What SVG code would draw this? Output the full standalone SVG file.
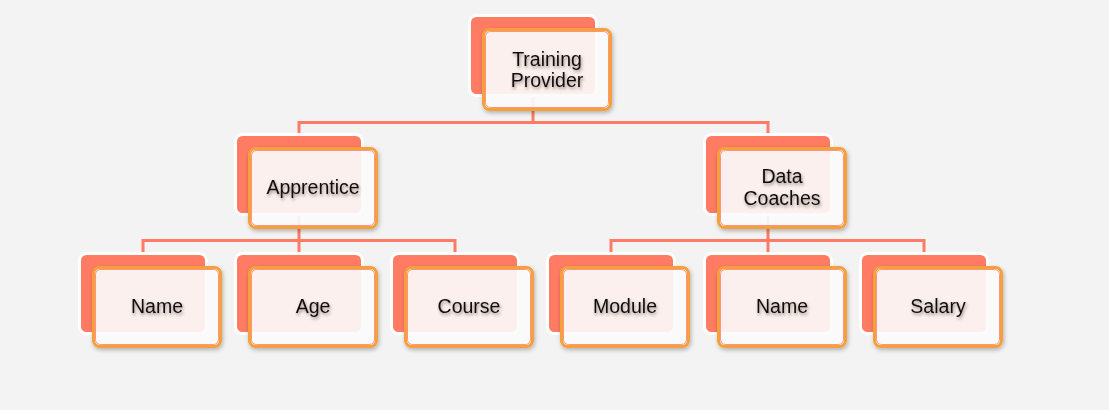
<svg xmlns="http://www.w3.org/2000/svg" width="1109" height="410" viewBox="0 0 1109 410">
<defs>
<filter id="boxShadow" x="-20%" y="-20%" width="140%" height="150%">
<feDropShadow dx="1" dy="2" stdDeviation="2" flood-color="#000" flood-opacity="0.28"/>
</filter>
<filter id="txtShadow" x="-20%" y="-40%" width="140%" height="180%">
<feDropShadow dx="1" dy="2" stdDeviation="1.5" flood-color="#3a2a20" flood-opacity="0.5"/>
</filter>
</defs>
<style>
.back{fill:#FF7B64;stroke:#FFFFFF;stroke-width:3}
.front{fill:#FFFFFF;fill-opacity:0.88;stroke:#F5A03A;stroke-width:3;filter:url(#boxShadow)}
.inner{fill:none;stroke:#FF7B64;stroke-width:1;stroke-opacity:0.8}
.lbl{font-family:"Liberation Sans",Arial,sans-serif;font-size:19.5px;fill:#111;text-anchor:middle;filter:url(#txtShadow)}
.conn{fill:none;stroke:#FF7B66;stroke-width:3;stroke-linejoin:miter}
</style>
<rect x="0" y="0" width="1109" height="410" fill="#F3F3F3"/>
<g id="connectors">
<path class="conn" d="M533 94 V122.5 M299 136 V122.5 H768 V136"/>
<path class="conn" d="M299 213 V240.5 M143 255 V240.5 H455 V255 M299 240.5 V255"/>
<path class="conn" d="M768 213 V240.5 M611 255 V240.5 H924 V255 M768 240.5 V255"/>
</g>
<g id="node-training-provider">
<rect class="back" x="469.5" y="15.5" width="127" height="80" rx="7"/>
<rect class="front" x="483.5" y="29.5" width="127" height="80" rx="6"/>
<rect class="inner" x="485.5" y="31.5" width="123" height="76" rx="5"/>
<text class="lbl" x="547" y="66">Training</text>
<text class="lbl" x="547" y="87">Provider</text>
</g>
<g id="node-apprentice">
<rect class="back" x="235.5" y="134.5" width="127" height="80" rx="7"/>
<rect class="front" x="249.5" y="148.5" width="127" height="79" rx="6"/>
<rect class="inner" x="251.5" y="150.5" width="123" height="75" rx="5"/>
<text class="lbl" x="313" y="194">Apprentice</text>
</g>
<g id="node-data-coaches">
<rect class="back" x="704.5" y="134.5" width="127" height="80" rx="7"/>
<rect class="front" x="718.5" y="148.5" width="127" height="79" rx="6"/>
<rect class="inner" x="720.5" y="150.5" width="123" height="75" rx="5"/>
<text class="lbl" x="782" y="183">Data</text>
<text class="lbl" x="782" y="205">Coaches</text>
</g>
<g id="node-name-1">
<rect class="back" x="79.5" y="253.5" width="127" height="80" rx="7"/>
<rect class="front" x="93.5" y="267.5" width="127" height="79" rx="6"/>
<rect class="inner" x="95.5" y="269.5" width="123" height="75" rx="5"/>
<text class="lbl" x="157" y="313">Name</text>
</g>
<g id="node-age">
<rect class="back" x="235.5" y="253.5" width="127" height="80" rx="7"/>
<rect class="front" x="249.5" y="267.5" width="127" height="79" rx="6"/>
<rect class="inner" x="251.5" y="269.5" width="123" height="75" rx="5"/>
<text class="lbl" x="313" y="313">Age</text>
</g>
<g id="node-course">
<rect class="back" x="391.5" y="253.5" width="127" height="80" rx="7"/>
<rect class="front" x="405.5" y="267.5" width="127" height="79" rx="6"/>
<rect class="inner" x="407.5" y="269.5" width="123" height="75" rx="5"/>
<text class="lbl" x="469" y="313">Course</text>
</g>
<g id="node-module">
<rect class="back" x="547.5" y="253.5" width="127" height="80" rx="7"/>
<rect class="front" x="561.5" y="267.5" width="127" height="79" rx="6"/>
<rect class="inner" x="563.5" y="269.5" width="123" height="75" rx="5"/>
<text class="lbl" x="625" y="313">Module</text>
</g>
<g id="node-name-2">
<rect class="back" x="704.5" y="253.5" width="127" height="80" rx="7"/>
<rect class="front" x="718.5" y="267.5" width="127" height="79" rx="6"/>
<rect class="inner" x="720.5" y="269.5" width="123" height="75" rx="5"/>
<text class="lbl" x="782" y="313">Name</text>
</g>
<g id="node-salary">
<rect class="back" x="860.5" y="253.5" width="127" height="80" rx="7"/>
<rect class="front" x="874.5" y="267.5" width="127" height="79" rx="6"/>
<rect class="inner" x="876.5" y="269.5" width="123" height="75" rx="5"/>
<text class="lbl" x="938" y="313">Salary</text>
</g>
</svg>
